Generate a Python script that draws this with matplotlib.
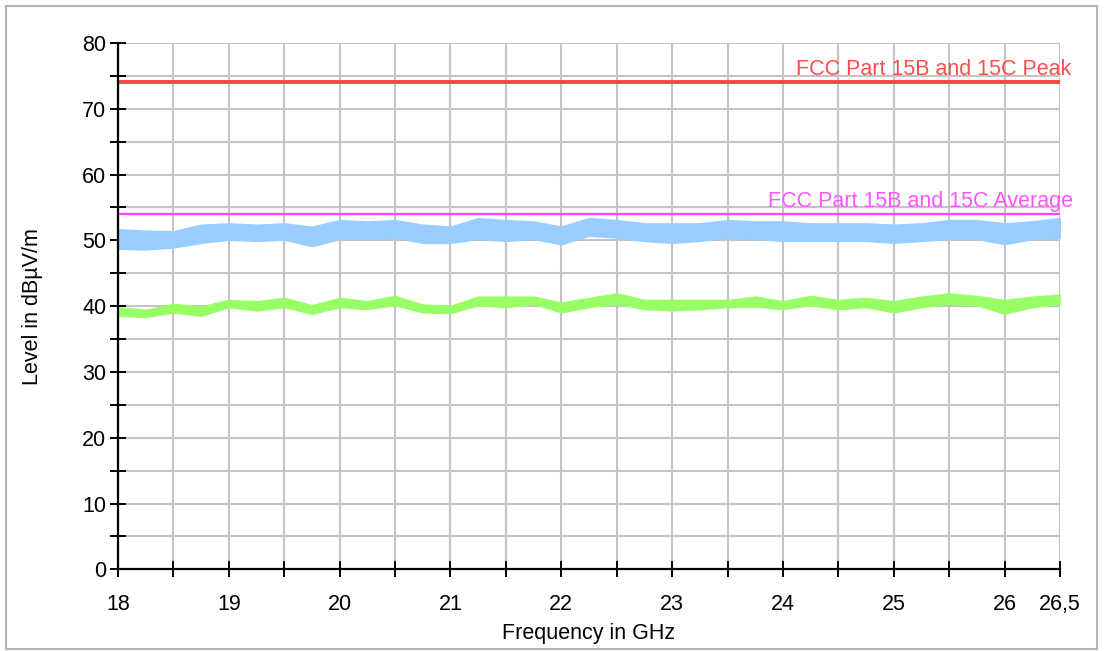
import matplotlib
matplotlib.use("Agg")
import matplotlib.pyplot as plt
from matplotlib.patches import Rectangle
import numpy as np

plt.rcParams['font.family'] = ['Liberation Sans', 'DejaVu Sans']

# frequency grid of the envelope readings (GHz)
freq = [18.0, 18.25, 18.5, 18.75, 19.0, 19.25, 19.5, 19.75, 20.0, 20.25,
        20.5, 20.75, 21.0, 21.25, 21.5, 21.75, 22.0, 22.25, 22.5, 22.75,
        23.0, 23.25, 23.5, 23.75, 24.0, 24.25, 24.5, 24.75, 25.0, 25.25,
        25.5, 25.75, 26.0, 26.25, 26.5]

# peak detector trace, lower / upper envelope (dBuV/m)
peak_lo = [48.8, 48.7, 49.0, 49.7, 50.2, 50.0, 50.2, 49.2, 50.3, 50.3,
           50.5, 49.7, 49.7, 50.3, 50.0, 50.3, 49.5, 50.8, 50.5, 50.0,
           49.7, 50.0, 50.5, 50.3, 50.0, 50.0, 50.0, 50.0, 49.7, 50.0,
           50.3, 50.3, 49.5, 50.3, 50.5]
peak_hi = [51.6, 51.4, 51.3, 52.3, 52.5, 52.3, 52.5, 52.0, 53.0, 52.8,
           53.0, 52.3, 52.0, 53.3, 53.0, 52.8, 52.0, 53.3, 53.0, 52.5,
           52.5, 52.5, 53.0, 52.8, 52.8, 52.5, 52.5, 52.5, 52.3, 52.5,
           53.0, 53.0, 52.5, 52.8, 53.3]

# average detector trace, lower / upper envelope (dBuV/m)
avg_lo = [38.6, 38.4, 39.1, 38.6, 39.9, 39.4, 39.9, 38.9, 39.9, 39.6,
          40.2, 39.1, 39.0, 40.2, 39.9, 40.4, 39.1, 39.9, 40.4, 39.6,
          39.4, 39.6, 39.9, 40.0, 39.6, 40.2, 39.6, 39.9, 39.1, 39.9,
          40.4, 40.2, 38.9, 39.9, 40.4]
avg_hi = [39.8, 39.4, 40.3, 39.9, 40.9, 40.7, 41.2, 40.1, 41.2, 40.7,
          41.5, 40.2, 40.0, 41.4, 41.4, 41.4, 40.5, 41.2, 41.9, 40.9,
          40.9, 40.9, 40.9, 41.4, 40.7, 41.5, 40.9, 41.2, 40.7, 41.4,
          41.9, 41.5, 40.9, 41.4, 41.7]

limit_peak = 74
limit_avg = 54

xticks = [18, 19, 20, 21, 22, 23, 24, 25, 26, 26.5]
xticklabels = ['18', '19', '20', '21', '22', '23', '24', '25', '26', '26,5']

fs = 15.5

fig = plt.figure(figsize=(11.04, 6.51), dpi=100)
ax = fig.add_axes([118 / 1104, 1 - 569.3 / 651, 942 / 1104, 526.3 / 651])

# outer frame
fig.patches.append(Rectangle((6 / 1104, 2 / 651), 1091 / 1104, 643 / 651,
                             transform=fig.transFigure, fill=False,
                             edgecolor='#b4b4b4', linewidth=1.5))

blue = '#99ccff'
green = '#99ff66'
ax.fill_between(freq, peak_lo, peak_hi, color=blue, linewidth=1.8,
                edgecolor=blue, zorder=3)
ax.fill_between(freq, avg_lo, avg_hi, color=green, linewidth=1.5,
                edgecolor=green, zorder=3)

ax.axhline(limit_peak, color='#ff4444', linewidth=2.8, zorder=4)
ax.axhline(limit_avg, color='#ff44ff', linewidth=1.6, zorder=4)
ax.text(26.6, limit_peak + 0.3, 'FCC Part 15B and 15C Peak', color='#ff4d4d',
        fontsize=fs, ha='right', va='bottom', clip_on=False, zorder=5)
ax.text(26.62, limit_avg + 0.3, 'FCC Part 15B and 15C Average', color='#ff55ff',
        fontsize=fs, ha='right', va='bottom', clip_on=False, zorder=5)

ax.set_xlim(18, 26.5)
ax.set_ylim(0, 80)
ax.set_xticks(xticks)
ax.set_xticklabels(xticklabels)
ax.set_xticks(np.arange(18.5, 26.5, 1.0), minor=True)
ax.set_yticks(range(0, 81, 10))
ax.set_yticks(range(5, 80, 10), minor=True)

ax.grid(True, which='both', color='#c4c4c4', linewidth=1.5, zorder=0)
ax.set_axisbelow(True)

for side in ['top', 'right']:
    ax.spines[side].set_visible(False)
for side in ['left', 'bottom']:
    ax.spines[side].set_linewidth(1.6)
    ax.spines[side].set_zorder(6)

ax.tick_params(which='both', direction='inout', length=11, width=1.4,
               labelsize=fs, colors='black')
ax.tick_params(axis='x', pad=12)
ax.tick_params(axis='y', pad=3)

ax.set_xlabel('Frequency in GHz', fontsize=fs, va='center')
ax.set_ylabel('Level in dBµV/m', fontsize=fs, va='center')
ax.xaxis.set_label_coords(0.5, (569.3 - 634) / 526.3)
ax.yaxis.set_label_coords((33 - 118) / 942, 0.5)

fig.savefig('out.png', dpi=100)
